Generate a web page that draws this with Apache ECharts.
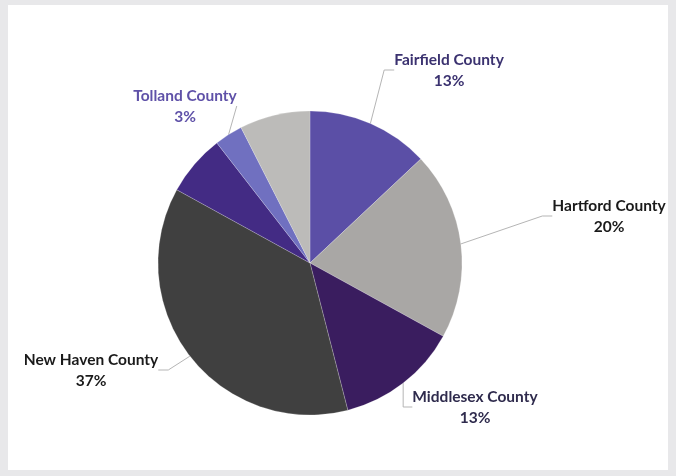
<!DOCTYPE html>
<html><head><meta charset="utf-8">
<script src="https://cdn.jsdelivr.net/npm/echarts@6/dist/echarts.min.js"></script>
<style>html,body{margin:0;padding:0;background:#e8e8ea;}#c{width:676px;height:476px;}</style>
</head><body><div id="c"></div>
<script>
const counties = ['Fairfield County','Hartford County','Middlesex County','New Haven County','New London County','Tolland County','Windham County'];
const shares = [13, 20, 13, 37, 6.5, 3, 7.5];
const showLabel = [true, true, true, true, false, true, false];
const sliceColors = ['#5b4fa6','#a9a7a5','#3a1d5f','#404040','#432b84','#7070c0','#bcbbb9'];
const labelColors = ['#3b3270','#1a1a1a','#2f2b4d','#1a1a1a','#1a1a1a','#5f51a8','#1a1a1a'];
// label anchor positions (label centers)
const labelPos = [[449,70],[609,216],[475,407],[91,370],null,[185,106],null];

const chart = echarts.init(document.getElementById('c'));
chart.setOption({
  backgroundColor:'#e8e8ea',
  animation:false,
  graphic:[{type:'rect',shape:{x:8,y:5,width:660,height:465},style:{fill:'#ffffff'},z:-1}],
  series:[{
    type:'pie',
    center:[310,263],
    radius:152,
    startAngle:90,
    clockwise:true,
    itemStyle:{borderColor:'rgba(255,255,255,0.4)',borderWidth:0.5},
    label:{
      show:true,
      position:'outside',
      fontFamily:'Lato',
      fontWeight:'bold',
      fontSize:15.5,
      lineHeight:21,
      align:'center',
      formatter:p=>p.name+'\n'+Math.round(p.percent)+'%'
    },
    labelLine:{show:true,length:15,length2:10,smooth:false,lineStyle:{color:'#b5b5b5',width:1}},
    labelLayout:function(params){
      const pos = labelPos[params.dataIndex];
      if(!pos) return {};
      return {x:pos[0],y:pos[1],align:'center',verticalAlign:'middle'};
    },
    data:counties.map((n,i)=>({
      name:n,value:shares[i],
      itemStyle:{color:sliceColors[i]},
      label:{show:showLabel[i],color:labelColors[i]},
      labelLine:{show:showLabel[i]}
    }))
  }]
});
</script></body></html>
